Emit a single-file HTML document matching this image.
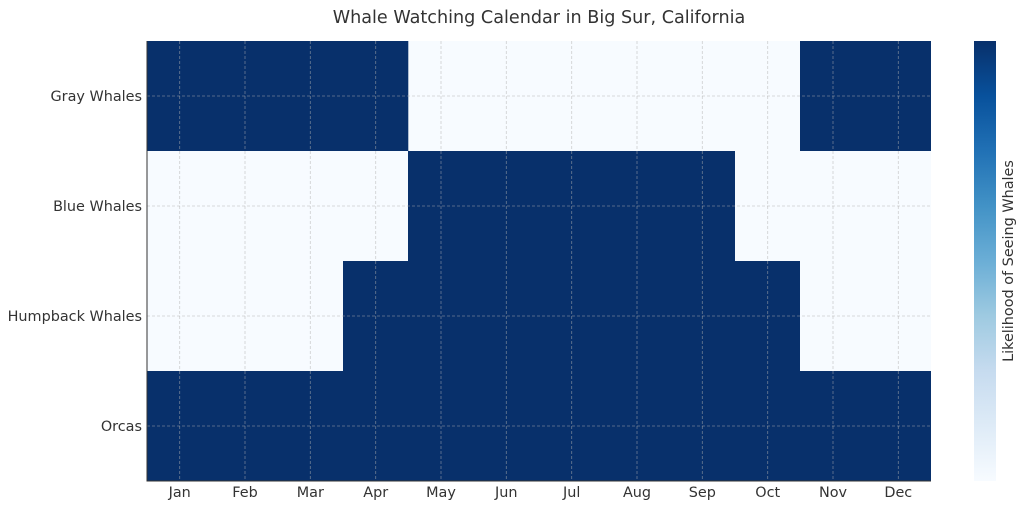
<!DOCTYPE html>
<html><head><meta charset="utf-8"><style>
body{margin:0;background:#fff;width:1024px;height:509px;overflow:hidden}
text{font-family:"DejaVu Sans",sans-serif;fill:#333}
</style></head><body>
<svg width="1024" height="509" xmlns="http://www.w3.org/2000/svg">
<defs>
<linearGradient id="cb" x1="0" y1="1" x2="0" y2="0">
<stop offset="0" stop-color="#f7fbff"/>
<stop offset="0.125" stop-color="#deebf7"/>
<stop offset="0.25" stop-color="#c6dbef"/>
<stop offset="0.375" stop-color="#9ecae1"/>
<stop offset="0.5" stop-color="#6baed6"/>
<stop offset="0.625" stop-color="#4292c6"/>
<stop offset="0.75" stop-color="#2171b5"/>
<stop offset="0.875" stop-color="#08519c"/>
<stop offset="1" stop-color="#08306b"/>
</linearGradient>
</defs>
<text x="539" y="23" font-size="17.6" text-anchor="middle">Whale Watching Calendar in Big Sur, California</text>
<rect x="147" y="41" width="784" height="440" fill="#f7fbff"/>
<g fill="#08306b">
<rect x="147" y="41" width="261.3" height="110"/>
<rect x="800" y="41" width="131" height="110"/>
<rect x="408" y="151" width="327" height="110"/>
<rect x="343" y="261" width="457" height="110"/>
<rect x="147" y="371" width="784" height="110"/>
</g>
<g stroke="#b0b0b0" stroke-opacity="0.6" stroke-width="0.8" stroke-dasharray="3,2">
<line x1="179.7" y1="41" x2="179.7" y2="481"/><line x1="245" y1="41" x2="245" y2="481"/>
<line x1="310.3" y1="41" x2="310.3" y2="481"/><line x1="375.7" y1="41" x2="375.7" y2="481"/>
<line x1="441" y1="41" x2="441" y2="481"/><line x1="506.3" y1="41" x2="506.3" y2="481"/>
<line x1="571.7" y1="41" x2="571.7" y2="481"/><line x1="637" y1="41" x2="637" y2="481"/>
<line x1="702.3" y1="41" x2="702.3" y2="481"/><line x1="767.7" y1="41" x2="767.7" y2="481"/>
<line x1="833" y1="41" x2="833" y2="481"/><line x1="898.3" y1="41" x2="898.3" y2="481"/>
<line x1="147" y1="96" x2="931" y2="96"/><line x1="147" y1="206" x2="931" y2="206"/>
<line x1="147" y1="316" x2="931" y2="316"/><line x1="147" y1="426" x2="931" y2="426"/>
</g>
<line x1="147" y1="41" x2="147" y2="481.5" stroke="#333" stroke-width="1"/>
<line x1="146.5" y1="481" x2="931" y2="481" stroke="#333" stroke-width="1"/>
<g font-size="14.4" text-anchor="end">
<text x="142" y="101">Gray Whales</text>
<text x="142" y="211">Blue Whales</text>
<text x="142" y="321">Humpback Whales</text>
<text x="142" y="431">Orcas</text>
</g>
<g font-size="14.4" text-anchor="middle">
<text x="179.7" y="497">Jan</text><text x="245" y="497">Feb</text><text x="310.3" y="497">Mar</text>
<text x="375.7" y="497">Apr</text><text x="441" y="497">May</text><text x="506.3" y="497">Jun</text>
<text x="571.7" y="497">Jul</text><text x="637" y="497">Aug</text><text x="702.3" y="497">Sep</text>
<text x="767.7" y="497">Oct</text><text x="833" y="497">Nov</text><text x="898.3" y="497">Dec</text>
</g>
<rect x="974" y="41" width="22" height="440" fill="url(#cb)"/>
<text x="1013" y="261" font-size="14.4" text-anchor="middle" transform="rotate(-90 1013 261)">Likelihood of Seeing Whales</text>
</svg>
</body></html>
